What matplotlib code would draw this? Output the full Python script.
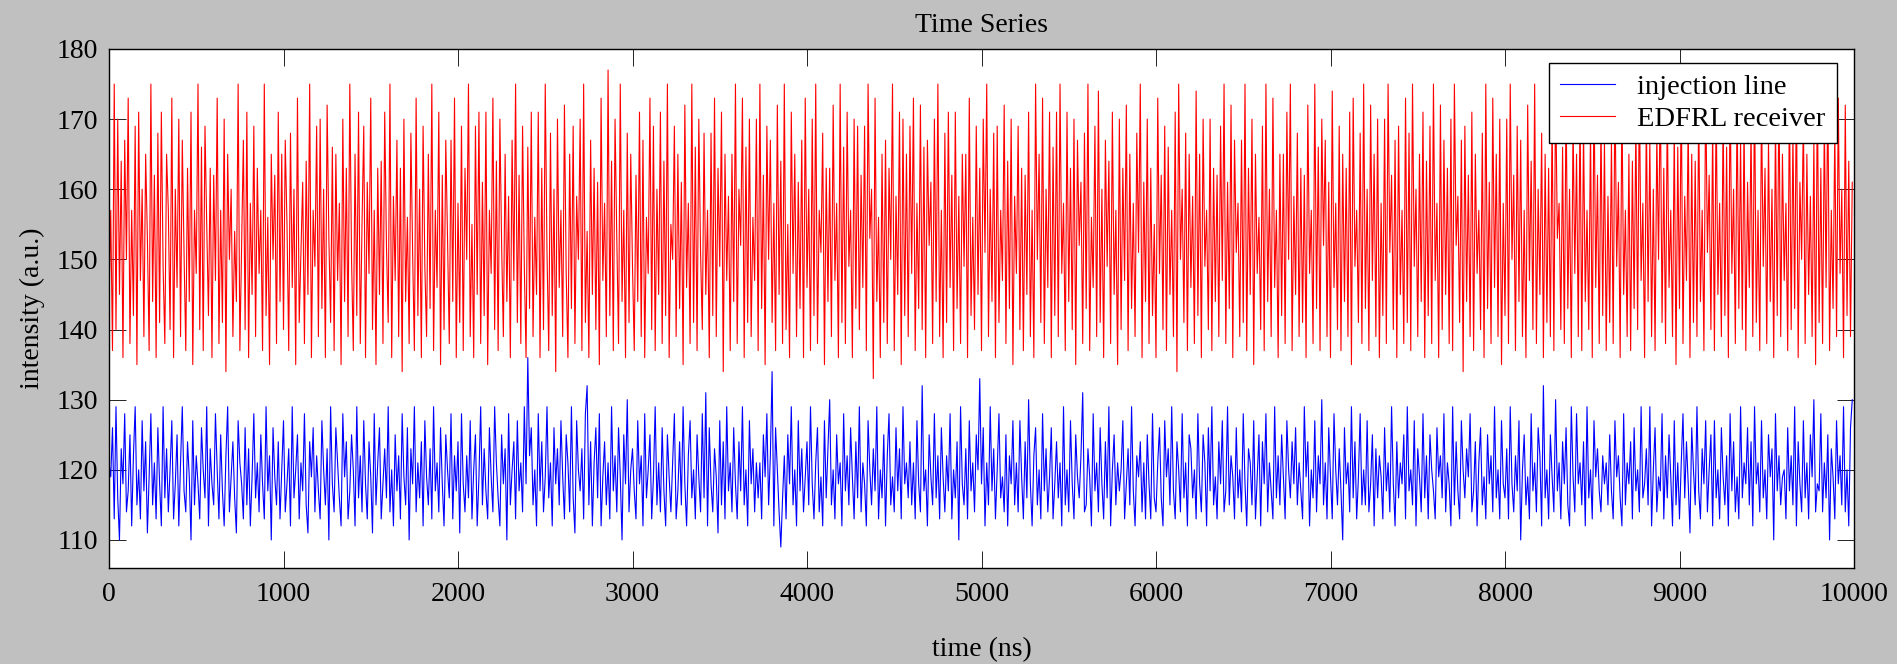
import numpy as np
import matplotlib
matplotlib.use("Agg")
import matplotlib.pyplot as plt

# ---------------- data (read / estimated from the reference) ----------------
t_step_ns = 10  # sample spacing in ns

edfrl_receiver = [
    143,157,137,175,140,170,145,164,136,167,150,173,138,157,142,169,135,171,147,160,
    139,165,153,137,175,144,162,136,168,141,171,149,138,165,157,140,173,136,160,146,
    170,139,167,151,137,163,144,171,135,157,148,175,140,166,137,169,155,142,163,136,
    162,147,173,138,157,141,170,134,165,150,160,139,154,144,175,137,152,167,140,171,
    136,158,145,169,139,163,148,157,137,175,142,156,135,165,150,162,138,171,144,165,
    140,167,155,137,168,146,160,135,173,141,151,161,138,164,145,175,136,157,149,169,
    139,170,143,160,136,172,153,141,166,137,165,147,158,135,170,144,163,139,175,150,
    137,165,142,171,138,155,169,136,161,148,173,140,157,135,163,145,164,138,171,152,
    141,175,136,159,147,167,139,163,134,170,144,156,138,168,151,137,173,142,160,136,
    169,149,139,165,143,175,137,157,146,171,135,162,140,167,153,138,167,144,173,136,
    158,141,169,137,163,150,175,139,155,136,169,145,171,138,161,142,171,135,157,148,
    173,140,164,137,170,152,139,165,144,159,136,167,147,175,141,162,138,169,149,136,
    166,143,171,139,156,145,171,136,163,140,175,151,137,168,142,160,134,170,146,157,
    139,172,148,136,165,143,169,138,159,150,170,137,175,141,154,136,167,145,163,140,
    161,135,173,147,158,139,177,142,164,137,170,153,138,175,144,157,136,168,141,165,
    149,137,162,144,171,139,167,136,156,148,173,140,169,137,160,145,171,138,164,142,
    175,136,155,150,169,139,165,143,161,135,172,146,158,138,175,141,166,137,170,151,
    140,168,145,157,136,168,142,173,139,163,149,171,134,165,147,159,137,165,144,175,
    138,160,152,173,136,166,141,170,139,156,147,170,137,175,143,162,135,169,150,167,
    141,158,137,172,145,164,138,175,140,155,136,171,148,165,139,161,143,167,136,173,
    146,160,137,170,142,175,138,157,151,168,135,163,144,163,139,172,147,158,136,175,
    141,166,138,171,149,157,136,170,143,169,140,162,146,169,137,175,153,160,133,173,
    144,156,136,165,141,167,138,163,150,175,137,159,145,171,135,170,142,165,139,169,
    148,173,137,158,143,172,140,166,136,167,152,161,138,170,144,175,139,157,136,168,
    141,171,146,162,137,171,143,159,138,165,149,165,136,173,142,156,140,169,145,163,
    137,170,151,175,139,160,144,168,136,169,141,157,147,172,138,164,143,170,135,159,
    148,169,140,163,137,162,145,171,139,157,136,175,150,165,141,173,138,160,146,171,
    136,166,142,171,139,175,148,158,137,171,144,163,140,170,135,167,152,161,138,168,
    143,175,137,156,146,169,139,174,141,160,136,167,149,164,138,171,145,157,135,170,
    140,163,147,172,137,165,143,158,139,168,151,175,136,161,144,170,138,163,142,155,
    136,173,148,162,140,169,137,166,145,157,139,171,134,175,150,160,141,168,137,165,
    146,159,138,174,142,165,136,170,149,157,140,170,137,163,144,162,139,169,147,175,
    138,161,143,172,136,167,151,158,139,167,141,175,137,163,145,170,135,165,148,156,
    140,169,137,175,144,160,139,173,146,157,136,165,142,165,138,171,150,175,137,159,
    145,168,139,163,141,162,136,172,148,157,138,175,143,166,137,170,152,167,139,161,
    136,174,146,158,140,169,137,165,144,163,139,171,135,173,149,157,141,168,138,175,
    143,160,137,172,147,165,139,170,136,158,142,170,138,175,151,162,140,167,136,169,
    145,157,138,173,141,168,137,175,149,160,139,165,144,171,136,164,142,169,138,175,
    147,158,136,172,140,167,145,163,138,170,137,175,152,159,141,167,134,169,144,162,
    139,171,137,165,148,157,140,168,136,175,143,161,138,173,146,165,139,170,135,158,
    142,170,138,175,150,162,137,169,144,167,139,157,136,172,147,164,140,175,138,160,
    145,168,136,165,141,163,139,171,137,175,153,158,140,166,138,174,143,160,136,170,
    148,165,139,172,137,169,144,157,140,169,136,175,146,162,138,170,142,167,137,159,
    141,167,138,175,149,161,136,173,145,157,139,165,137,164,143,170,140,175,147,158,
    136,171,144,167,139,160,137,168,150,175,141,163,138,172,146,157,139,169,135,166,
    143,175,138,159,147,170,136,165,141,164,139,172,144,157,137,175,151,162,140,169,
    137,173,145,158,139,171,142,166,136,175,148,160,138,173,143,167,140,170,137,161,
    146,169,139,175,141,157,137,172,149,163,138,167,144,160,136,170,142,175,139,165,
    147,158,137,174,140,168,143,175,136,161,150,171,138,165,145,159,139,167,135,175,
    141,163,138,170,146,175,137,157,143,169,139,173,148,160,136,172,142,164,139,161,
]

injection_line = [
    121,119,126,113,129,116,110,123,118,128,114,117,125,112,122,129,115,120,113,127,
    117,124,111,119,128,115,121,113,126,118,112,129,116,123,114,120,127,113,118,125,
    112,121,129,117,114,124,119,110,127,115,122,118,113,126,120,116,129,112,123,118,
    115,128,120,113,125,117,112,122,129,114,119,124,116,111,127,121,118,113,126,115,
    123,112,119,128,116,121,114,125,118,113,129,117,122,110,126,119,115,124,113,120,
    127,114,118,123,112,129,116,120,125,113,121,117,128,115,111,124,119,126,114,122,
    117,113,127,120,115,123,110,129,118,114,126,121,116,112,128,119,124,113,117,125,
    120,112,129,116,122,114,127,118,113,124,119,111,128,115,121,126,113,118,123,116,
    129,114,120,112,125,117,122,113,128,119,115,126,110,123,118,129,114,121,116,124,
    112,127,119,115,123,113,129,117,121,114,126,118,112,125,120,116,128,113,122,117,
    124,111,128,118,114,122,116,127,113,120,125,112,119,129,115,123,117,113,126,119,
    114,129,121,116,112,125,118,123,110,128,115,120,124,113,127,117,121,114,129,118,
    136,122,126,115,120,112,128,117,124,114,119,129,116,121,112,126,118,123,115,127,
    119,113,125,121,114,129,116,111,127,120,117,123,113,128,132,115,124,112,121,126,
    116,128,112,119,124,115,121,113,129,117,122,114,126,119,110,125,118,130,114,120,
    123,117,113,127,118,122,112,128,116,120,125,113,119,129,115,121,114,126,117,112,
    125,119,114,121,128,113,117,124,115,129,118,112,122,127,116,120,113,125,119,114,
    128,116,131,112,126,118,114,123,119,111,127,115,124,113,129,117,121,114,126,118,
    113,124,117,129,115,120,112,127,118,123,114,121,116,121,113,125,119,128,115,122,
    134,112,126,120,114,109,116,122,113,125,118,129,115,120,112,127,117,123,114,119,
    124,115,129,118,113,121,126,114,119,112,127,116,123,130,115,120,113,125,118,121,
    112,128,117,122,115,126,119,113,124,116,129,114,121,118,112,127,120,115,123,117,
    129,113,120,116,125,112,122,128,115,119,114,126,117,123,113,129,118,121,116,124,
    115,121,113,127,118,114,132,117,120,112,125,119,115,128,116,122,113,126,119,114,
    122,117,128,113,120,116,124,110,129,118,115,123,113,127,117,121,114,125,120,133,
    118,126,112,121,115,129,117,123,113,120,128,116,119,114,125,112,122,118,127,115,
    121,114,127,119,113,124,116,130,118,112,122,126,115,120,113,128,117,123,114,119,
    126,113,118,124,116,121,112,129,115,120,114,127,118,113,125,119,116,122,131,114,
    115,123,119,112,128,117,121,114,126,118,113,124,116,129,112,120,125,115,121,117,
    120,127,113,118,123,115,129,117,112,122,119,124,114,121,113,125,118,113,128,116,
    114,121,126,116,112,127,119,123,115,129,117,113,124,120,114,128,116,121,112,125,
    123,116,120,113,128,118,114,125,121,112,126,117,129,115,119,113,124,118,127,114,
    117,129,115,122,119,113,126,116,120,114,128,118,112,123,121,115,127,113,119,125,
    112,124,118,128,114,121,117,113,129,116,122,115,125,119,113,127,120,116,124,118,
    126,115,121,117,113,129,119,124,112,120,116,127,114,122,118,130,115,121,113,126,
    119,113,128,120,115,123,117,110,126,118,121,114,129,116,124,113,119,128,115,120,
    115,127,114,118,125,112,123,116,122,119,113,126,117,121,114,129,118,112,124,116,
    121,118,125,113,129,117,120,115,127,112,123,119,114,128,116,122,113,125,120,117,
    113,126,119,122,116,128,114,121,118,112,129,115,124,117,113,127,120,116,123,119,
    128,114,117,124,112,121,126,115,119,113,125,118,122,114,129,116,120,113,127,118,
    116,123,113,129,118,114,122,117,127,110,120,125,115,119,113,128,117,121,114,126,
    122,112,132,116,120,113,125,119,114,130,117,121,113,124,118,126,115,112,129,119,
    114,128,118,121,115,124,112,129,116,120,113,127,119,123,117,114,122,118,121,115,
    125,117,113,127,119,122,116,112,128,115,121,118,124,113,126,117,120,114,129,116,
    118,123,115,129,112,120,126,114,119,117,128,113,122,116,125,119,112,127,115,121,
    113,121,128,116,124,118,111,126,120,115,129,117,113,123,118,127,114,120,125,112,
    127,116,120,113,126,119,115,122,112,128,117,124,114,119,113,129,116,121,118,126,
    115,124,112,129,118,121,114,127,116,120,113,125,119,123,110,128,117,122,115,119,
    120,113,126,117,122,115,129,112,124,118,114,127,116,121,113,125,119,130,114,118,
    117,128,114,121,116,125,110,123,119,113,127,118,122,115,129,114,120,112,126,130,
]

series_labels = ["injection line", "EDFRL receiver"]
title_text = "Time Series"
x_label = "time (ns)"
y_label = "intensity (a.u.)"
x_ticks = [0, 1000, 2000, 3000, 4000, 5000, 6000, 7000, 8000, 9000, 10000]
y_ticks = [110, 120, 130, 140, 150, 160, 170, 180]

# ---------------- figure ----------------
plt.rcParams['font.family'] = ['Liberation Serif', 'DejaVu Serif']

W, H = 1897, 664
fig = plt.figure(figsize=(W / 100, H / 100), dpi=100, facecolor='#c0c0c0')
ax_l, ax_r, ax_t, ax_b = 109, 1854, 49, 568
ax = fig.add_axes([ax_l / W, 1 - ax_b / H, (ax_r - ax_l) / W, (ax_b - ax_t) / H])
ax.set_facecolor('white')

t_blue = np.arange(len(injection_line)) * t_step_ns
t_red = np.arange(len(edfrl_receiver)) * t_step_ns
ax.plot(t_blue, injection_line, color='#0000ff', lw=0.8, label=series_labels[0])
ax.plot(t_red, edfrl_receiver, color='#ff0000', lw=0.8, label=series_labels[1])

ax.set_xlim(0, 10000)
ax.set_ylim(106, 180)
ax.set_xticks(x_ticks)
ax.set_yticks(y_ticks)
ax.tick_params(direction='in', top=True, right=True, length=12, width=0.6,
               labelsize=20, colors='black')
ax.tick_params(axis='x', pad=10)
ax.tick_params(axis='y', pad=8)
for s in ax.spines.values():
    s.set_linewidth(1.0)
    s.set_color('black')

ax.set_title(title_text, fontsize=20, pad=12)
ax.set_xlabel(x_label, fontsize=20, labelpad=22)
ax.set_ylabel(y_label, fontsize=20, labelpad=8)

leg = ax.legend(loc='upper right', bbox_to_anchor=(1 - 17 / (ax_r - ax_l), 1 - 14 / (ax_b - ax_t)),
                fontsize=20.5, frameon=True, fancybox=False, framealpha=1,
                edgecolor='black', handlelength=1.9, handletextpad=0.8,
                borderpad=0.4, labelspacing=0.2, borderaxespad=0)
leg.get_frame().set_linewidth(1.0)

fig.savefig('out.png', dpi=100, facecolor=fig.get_facecolor())
